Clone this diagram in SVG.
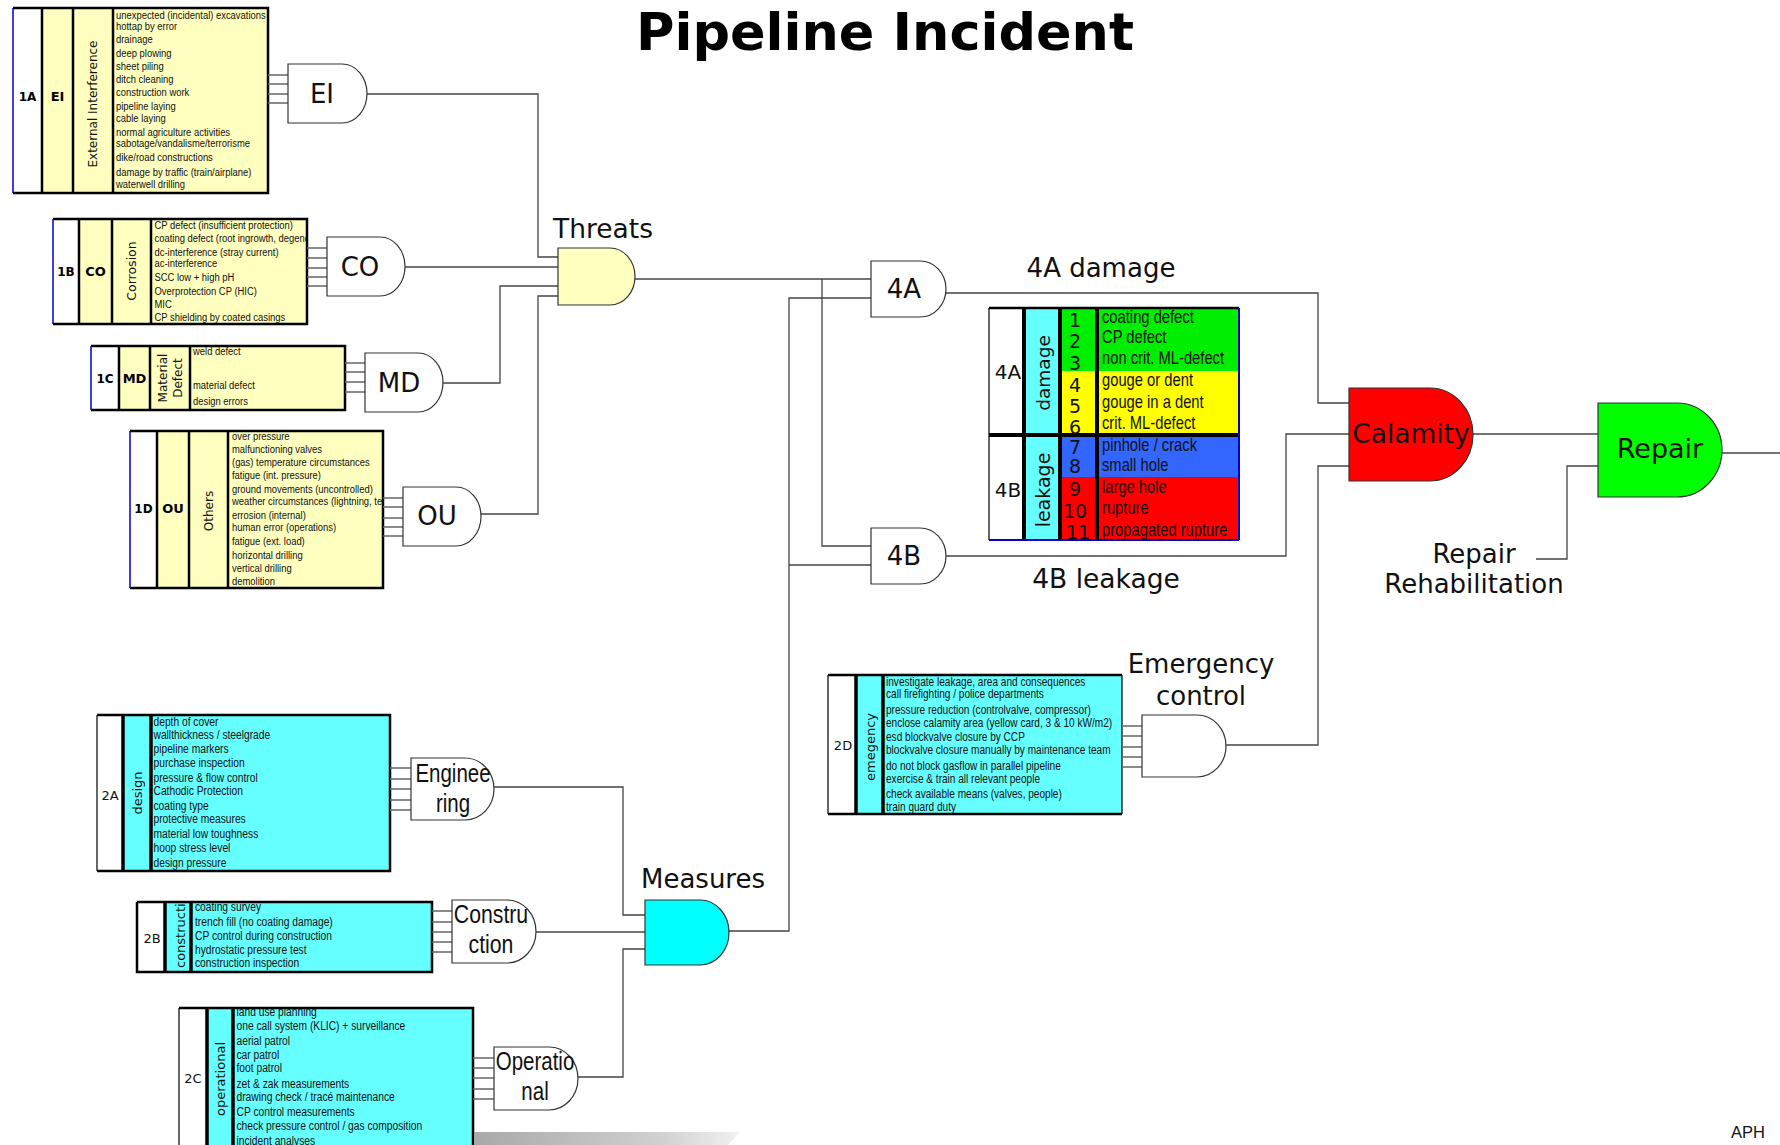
<svg xmlns="http://www.w3.org/2000/svg" width="1780" height="1145" viewBox="0 0 1780 1145">
<style>
.bg{fill:#ffffff}
.yel{fill:#FFFFC0}
.cy{fill:#66FFFF}
.wh{fill:#ffffff}
.bk{stroke:#000;stroke-width:2.5;fill:none}
.bk3{stroke:#000;stroke-width:3.5;fill:none}
.bl{stroke:#0000CC;stroke-width:1.5;fill:none}
.thin{stroke:#000;stroke-width:1.2;fill:none}
.stub{stroke:#666;stroke-width:1.5;fill:none}
.con{stroke:#444;stroke-width:1.3;fill:none}
.gate{stroke:#333;stroke-width:1.2}
.gw{fill:#ffffff}
.li{font-family:"Liberation Sans",Arial,sans-serif;fill:#111}
.dv{font-family:"DejaVu Sans",Verdana,sans-serif;fill:#111}
.dvb{font-family:"DejaVu Sans",Verdana,sans-serif;font-weight:bold;fill:#000}
.mid{text-anchor:middle}
.gl{font-family:"DejaVu Sans",Verdana,sans-serif;font-size:26px;text-anchor:middle;fill:#111}
.nl{font-family:"Liberation Sans",Arial,sans-serif;font-size:25px;text-anchor:middle;fill:#111}
</style>
<defs>
<clipPath id="c1b"><rect x="151" y="219" width="156" height="105"/></clipPath>
<clipPath id="c1d"><rect x="228" y="431" width="155" height="157"/></clipPath>
<clipPath id="c2b"><rect x="165" y="902" width="26" height="70"/></clipPath>
<clipPath id="c2d"><rect x="883" y="675" width="239" height="139"/></clipPath>
<linearGradient id="shade" x1="0" y1="0" x2="1" y2="0">
<stop offset="0" stop-color="#a8a8a8"/>
<stop offset="0.7" stop-color="#d0d0d0"/>
<stop offset="1" stop-color="#f2f2f2"/>
</linearGradient>
</defs>
<rect class="bg" x="0" y="0" width="1780" height="1145"/>

<text class="dvb" x="885" y="50" font-size="52" text-anchor="middle" textLength="498" lengthAdjust="spacingAndGlyphs">Pipeline Incident</text>

<!-- connectors -->
<g id="connectors">
<path class="con" d="M367,94 H538 V257 H558"/>
<path class="con" d="M405,267 H558"/>
<path class="con" d="M443,383 H500 V286 H558"/>
<path class="con" d="M481,514 H538 V296 H558"/>
<path class="con" d="M635,279 H871"/>
<path class="con" d="M822,279 V546 H871"/>
<path class="con" d="M871,298 H789 V931 H729"/>
<path class="con" d="M789,565 H871"/>
<path class="con" d="M946,293 H1318 V403 H1349"/>
<path class="con" d="M946,556 H1286 V434 H1349"/>
<path class="con" d="M1473,434 H1598"/>
<path class="con" d="M1226,745 H1318 V466 H1349"/>
<path class="con" d="M1722,453 H1780"/>
<path class="con" d="M1536,559 H1567 V466 H1598"/>
<path class="con" d="M494,787 H623 V915 H645"/>
<path class="con" d="M536,932 H645"/>
<path class="con" d="M578,1077 H623 V949 H645"/>
</g>

<!-- 1A -->
<g id="box1A">
<rect class="wh" x="13" y="8" width="29" height="185"/>
<rect class="yel" x="42" y="8" width="226" height="185"/>
<path class="bk" d="M13,8 H268 V193 H13 M42,8 V193 M73,8 V193 M113,8 V193"/>
<path class="bl" d="M13,8 V193"/>
<text class="dvb mid" x="27.5" y="101" font-size="12">1A</text>
<text class="dvb mid" x="57.5" y="101" font-size="13">EI</text>
<text class="dv mid" x="93" y="104" font-size="12" dominant-baseline="central" transform="rotate(-90 93 104)">External Interference</text>
<g transform="translate(116 0) scale(0.82 1)">
<text class="li" font-size="11.5">
<tspan x="0" y="19">unexpected (incidental) excavations</tspan>
<tspan x="0" y="30">hottap by error</tspan>
<tspan x="0" y="43">drainage</tspan>
<tspan x="0" y="57">deep plowing</tspan>
<tspan x="0" y="70">sheet piling</tspan>
<tspan x="0" y="83">ditch cleaning</tspan>
<tspan x="0" y="96">construction work</tspan>
<tspan x="0" y="110">pipeline  laying</tspan>
<tspan x="0" y="122">cable laying</tspan>
<tspan x="0" y="136">normal agriculture activities</tspan>
<tspan x="0" y="147">sabotage/vandalisme/terrorisme</tspan>
<tspan x="0" y="161">dike/road constructions</tspan>
<tspan x="0" y="176">damage by traffic (train/airplane)</tspan>
<tspan x="0" y="188">waterwell drilling</tspan>
</text>
</g>
<path class="stub" d="M268,75 H288 M268,84 H288 M268,94 H288 M268,103 H288"/>
</g>

<!-- 1B -->
<g id="box1B">
<rect class="wh" x="53" y="219" width="26" height="105"/>
<rect class="yel" x="79" y="219" width="228" height="105"/>
<path class="bk" d="M53,219 H307 V324 H53 M79,219 V324 M112,219 V324 M151,219 V324"/>
<path class="bl" d="M53,219 V324"/>
<text class="dvb mid" x="66" y="276" font-size="12">1B</text>
<text class="dvb mid" x="95.5" y="276" font-size="13">CO</text>
<text class="dv mid" x="131" y="271" font-size="12.5" dominant-baseline="central" transform="rotate(-90 131 271)">Corrosion</text>
<g clip-path="url(#c1b)">
<g transform="translate(154.5 0) scale(0.82 1)">
<text class="li" font-size="11.5">
<tspan x="0" y="229">CP defect (insufficient protection)</tspan>
<tspan x="0" y="242">coating defect (root ingrowth, degene</tspan>
<tspan x="0" y="256">dc-interference (stray current)</tspan>
<tspan x="0" y="267">ac-interference</tspan>
<tspan x="0" y="281.5">SCC low + high pH</tspan>
<tspan x="0" y="295">Overprotection CP (HIC)</tspan>
<tspan x="0" y="308">MIC</tspan>
<tspan x="0" y="321">CP shielding by coated casings</tspan>
</text>
</g>
</g>
<path class="stub" d="M307,248 H327 M307,258 H327 M307,268 H327 M307,277 H327 M307,286 H327"/>
</g>

<!-- 1C -->
<g id="box1C">
<rect class="wh" x="91" y="346" width="28" height="64"/>
<rect class="yel" x="119" y="346" width="226" height="64"/>
<path class="bk" d="M91,346 H345 V410 H91 M119,346 V410 M150,346 V410 M190,346 V410"/>
<path class="bl" d="M91,346 V410"/>
<text class="dvb mid" x="105" y="383" font-size="12">1C</text>
<text class="dvb mid" x="134.5" y="383" font-size="13">MD</text>
<text class="dv mid" x="163" y="378" font-size="12" dominant-baseline="central" transform="rotate(-90 163 378)">Material</text>
<text class="dv mid" x="178" y="378" font-size="12" dominant-baseline="central" transform="rotate(-90 178 378)">Defect</text>
<g transform="translate(193 0) scale(0.82 1)">
<text class="li" font-size="11.5">
<tspan x="0" y="355.5">weld defect</tspan>
<tspan x="0" y="389">material defect</tspan>
<tspan x="0" y="405">design errors</tspan>
</text>
</g>
<path class="stub" d="M345,363 H365 M345,372 H365 M345,382 H365 M345,392 H365"/>
</g>

<!-- 1D -->
<g id="box1D">
<rect class="wh" x="130" y="431" width="27" height="157"/>
<rect class="yel" x="157" y="431" width="226" height="157"/>
<path class="bk" d="M130,431 H383 V588 H130 M157,431 V588 M189,431 V588 M228,431 V588"/>
<path class="bl" d="M130,431 V588"/>
<text class="dvb mid" x="143.5" y="513" font-size="12">1D</text>
<text class="dvb mid" x="173" y="513" font-size="13">OU</text>
<text class="dv mid" x="208.5" y="511" font-size="12" dominant-baseline="central" transform="rotate(-90 208.5 511)">Others</text>
<g clip-path="url(#c1d)">
<g transform="translate(232 0) scale(0.82 1)">
<text class="li" font-size="11.5">
<tspan x="0" y="440.5">over pressure</tspan>
<tspan x="0" y="453">malfunctioning valves</tspan>
<tspan x="0" y="466">(gas) temperature circumstances</tspan>
<tspan x="0" y="479">fatigue (int. pressure)</tspan>
<tspan x="0" y="493">ground movements (uncontrolled)</tspan>
<tspan x="0" y="505.5">weather circumstances (lightning, te</tspan>
<tspan x="0" y="519">errosion (internal)</tspan>
<tspan x="0" y="531.5">human error (operations)</tspan>
<tspan x="0" y="545.5">fatigue (ext. load)</tspan>
<tspan x="0" y="559">horizontal drilling</tspan>
<tspan x="0" y="572">vertical drilling</tspan>
<tspan x="0" y="585">demolition</tspan>
</text>
</g>
</g>
<path class="stub" d="M383,498 H403 M383,507 H403 M383,518 H403 M383,527 H403 M383,536 H403"/>
</g>

<!-- gates -->
<g id="gateEI"><path class="gate gw" d="M288,64 H342 A25,29.5 0 0 1 342,123 H288 Z"/><text class="gl" x="322" y="103">EI</text></g>
<g id="gateCO"><path class="gate gw" d="M327,237 H380 A25,29.5 0 0 1 380,296 H327 Z"/><text class="gl" x="360" y="276">CO</text></g>
<g id="gateMD"><path class="gate gw" d="M365,353 H418 A25,29.5 0 0 1 418,412 H365 Z"/><text class="gl" x="399" y="392">MD</text></g>
<g id="gateOU"><path class="gate gw" d="M403,487 H456 A25,29.5 0 0 1 456,546 H403 Z"/><text class="gl" x="437" y="525">OU</text></g>
<g id="gateThreats"><path class="gate" fill="#FFFFC0" d="M558,248 H610 A25,28.5 0 0 1 610,305 H558 Z"/><text class="dv" x="553" y="238" font-size="26.5">Threats</text></g>
<g id="gate4A"><path class="gate gw" d="M871,261 H920 A26,28 0 0 1 920,317 H871 Z"/><text class="gl" x="904" y="298">4A</text></g>
<g id="gate4B"><path class="gate gw" d="M871,528 H920 A26,28 0 0 1 920,584 H871 Z"/><text class="gl" x="904" y="565">4B</text></g>
<text class="dv mid" x="1101" y="277" font-size="26">4A damage</text>
<text class="dv mid" x="1106" y="588" font-size="26.5">4B leakage</text>

<!-- damage table -->
<g id="damageTable">
<rect class="wh" x="989" y="308" width="35" height="232"/>
<rect class="cy" x="1024" y="308" width="36" height="232"/>
<rect fill="#00EE00" x="1060" y="308" width="179" height="63"/>
<rect fill="#FFFF00" x="1060" y="371" width="179" height="64"/>
<rect fill="#3366FF" x="1060" y="435" width="179" height="42"/>
<rect fill="#FF0000" x="1060" y="477" width="179" height="63"/>
<path class="bk" d="M989,308 H1239"/>
<path class="thin" d="M989,308 V540"/>
<path stroke="#000" stroke-width="4" fill="none" d="M1024,308 V540 M1060,308 V540 M1097,308 V540 M989,435 H1239"/>
<path stroke="#0000CC" stroke-width="2" fill="none" d="M1239,308 V540 M989,540 H1239"/>
<text class="dv mid" x="1008" y="379" font-size="20">4A</text>
<text class="dv mid" x="1008" y="497" font-size="20">4B</text>
<text class="dv mid" x="1043" y="373" font-size="18.5" dominant-baseline="central" transform="rotate(-90 1043 373)">damage</text>
<text class="dv mid" x="1043" y="490" font-size="19" dominant-baseline="central" transform="rotate(-90 1043 490)">leakage</text>
<text class="dv mid" font-size="19">
<tspan x="1078" y="327">1</tspan>
<tspan x="1078" y="348">2</tspan>
<tspan x="1078" y="370">3</tspan>
<tspan x="1078" y="392">4</tspan>
<tspan x="1078" y="413">5</tspan>
<tspan x="1078" y="434">6</tspan>
<tspan x="1078" y="454">7</tspan>
<tspan x="1078" y="473">8</tspan>
<tspan x="1078" y="496">9</tspan>
<tspan x="1078" y="518">10</tspan>
<tspan x="1078" y="539">11</tspan>
</text>
<g transform="translate(1102 0) scale(0.82 1)">
<text class="li" font-size="18">
<tspan x="0" y="323">coating defect</tspan>
<tspan x="0" y="343">CP defect</tspan>
<tspan x="0" y="364">non crit. ML-defect</tspan>
<tspan x="0" y="386">gouge or dent</tspan>
<tspan x="0" y="408">gouge in a dent</tspan>
<tspan x="0" y="429">crit. ML-defect</tspan>
<tspan x="0" y="451">pinhole / crack</tspan>
<tspan x="0" y="471">small hole</tspan>
<tspan x="0" y="493">large hole</tspan>
<tspan x="0" y="514">rupture</tspan>
<tspan x="0" y="536">propagated rupture</tspan>
</text>
</g>
</g>

<g id="gateCalamity"><path class="gate" fill="#FF0000" d="M1349,388 H1430 A43,46.5 0 0 1 1430,481 H1349 Z"/><text class="dv mid" x="1411" y="443" font-size="26.5">Calamity</text></g>
<g id="gateRepair"><path class="gate" fill="#00FF00" d="M1598,403 H1677 A45,47 0 0 1 1677,497 H1598 Z"/><text class="dv mid" x="1660" y="458" font-size="27">Repair</text></g>
<text class="dv mid" x="1474" y="563" font-size="26">Repair</text>
<text class="dv mid" x="1474" y="593" font-size="26">Rehabilitation</text>

<!-- 2D -->
<g id="box2D">
<rect class="wh" x="828" y="675" width="28" height="139"/>
<rect class="cy" x="856" y="675" width="266" height="139"/>
<path class="bk" d="M828,675 H1122 M828,814 H1122"/>
<path class="thin" d="M828,675 V814 M1122,675 V814"/>
<path class="bk3" d="M856,675 V814 M883,675 V814"/>
<text class="dv mid" x="843" y="750" font-size="13">2D</text>
<text class="dv mid" x="870" y="747" font-size="13" dominant-baseline="central" transform="rotate(-90 870 747)">emegency</text>
<g clip-path="url(#c2d)">
<g transform="translate(886 0) scale(0.82 1)">
<text class="li" font-size="12.3">
<tspan x="0" y="686.5">investigate leakage, area and consequences</tspan>
<tspan x="0" y="698.5">call firefighting / police departments</tspan>
<tspan x="0" y="714">pressure reduction (controlvalve, compressor)</tspan>
<tspan x="0" y="727.5">enclose calamity area (yellow card, 3 &amp; 10 kW/m2)</tspan>
<tspan x="0" y="741">esd blockvalve closure by CCP</tspan>
<tspan x="0" y="754">blockvalve closure manually by maintenance team</tspan>
<tspan x="0" y="770">do not block gasflow in parallel pipeline</tspan>
<tspan x="0" y="783.5">exercise &amp; train all relevant people</tspan>
<tspan x="0" y="798">check available means (valves, people)</tspan>
<tspan x="0" y="811">train guard duty</tspan>
</text>
</g>
</g>
<path class="stub" d="M1122,726 H1142 M1122,736 H1142 M1122,747 H1142 M1122,757 H1142 M1122,767 H1142"/>
</g>
<g id="gateEmergency"><path class="gate gw" d="M1142,715 H1197 A29,31 0 0 1 1197,777 H1142 Z"/>
<text class="dv mid" x="1201" y="673" font-size="26">Emergency</text>
<text class="dv mid" x="1201" y="705" font-size="26">control</text></g>

<!-- 2A -->
<g id="box2A">
<rect class="wh" x="97" y="715" width="26" height="156"/>
<rect class="cy" x="123" y="715" width="267" height="156"/>
<path class="bk" d="M97,715 H390 V871 H97"/>
<path class="thin" d="M97,715 V871"/>
<path class="bk3" d="M123,715 V871 M151,715 V871"/>
<text class="dv mid" x="110" y="800" font-size="13">2A</text>
<text class="dv mid" x="137" y="793" font-size="13" dominant-baseline="central" transform="rotate(-90 137 793)">design</text>
<g transform="translate(153.5 0) scale(0.82 1)">
<text class="li" font-size="12.5">
<tspan x="0" y="726">depth of cover</tspan>
<tspan x="0" y="739">wallthickness / steelgrade</tspan>
<tspan x="0" y="753">pipeline markers</tspan>
<tspan x="0" y="767.5">purchase inspection</tspan>
<tspan x="0" y="782">pressure &amp; flow control</tspan>
<tspan x="0" y="795">Cathodic Protection</tspan>
<tspan x="0" y="810">coating type</tspan>
<tspan x="0" y="823.5">protective measures</tspan>
<tspan x="0" y="838.5">material low toughness</tspan>
<tspan x="0" y="852.5">hoop stress level</tspan>
<tspan x="0" y="867">design pressure</tspan>
</text>
</g>
<path class="stub" d="M390,768 H411 M390,779 H411 M390,789 H411 M390,800 H411 M390,810 H411"/>
</g>
<g id="gateEngineering"><path class="gate gw" d="M411,758 H465 A29,31 0 0 1 465,820 H411 Z"/>
<g transform="translate(453 0) scale(0.82 1)"><text class="nl" x="0" y="782">Enginee</text><text class="nl" x="0" y="812">ring</text></g></g>

<!-- 2B -->
<g id="box2B">
<rect class="wh" x="137" y="902" width="28" height="70"/>
<rect class="cy" x="165" y="902" width="267" height="70"/>
<path class="bk" d="M137,902 H432 V972 H137 V902"/>
<path class="bk3" d="M165,902 V972 M191,902 V972"/>
<text class="dv mid" x="152" y="943" font-size="13">2B</text>
<g clip-path="url(#c2b)"><text class="dv" x="180" y="968" font-size="13" dominant-baseline="central" transform="rotate(-90 180 968)">constructio</text></g>
<g transform="translate(195 0) scale(0.82 1)">
<text class="li" font-size="12.5">
<tspan x="0" y="911">coating survey</tspan>
<tspan x="0" y="926.5">trench fill (no coating damage)</tspan>
<tspan x="0" y="940">CP control during construction</tspan>
<tspan x="0" y="954">hydrostatic pressure test</tspan>
<tspan x="0" y="967.5">construction inspection</tspan>
</text>
</g>
<path class="stub" d="M432,911 H452 M432,922 H452 M432,932 H452 M432,942 H452 M432,952 H452"/>
</g>
<g id="gateConstruction"><path class="gate gw" d="M452,900 H507 A29,31.5 0 0 1 507,963 H452 Z"/>
<g transform="translate(491 0) scale(0.85 1)"><text class="nl" x="0" y="923">Constru</text><text class="nl" x="0" y="953">ction</text></g></g>

<!-- 2C -->
<g id="box2C">
<rect class="wh" x="179" y="1008" width="28" height="142"/>
<rect class="cy" x="207" y="1008" width="266" height="142"/>
<path class="bk" d="M179,1008 H473 V1150"/>
<path class="thin" d="M179,1008 V1150"/>
<path class="bk3" d="M207,1008 V1150 M233,1008 V1150"/>
<text class="dv mid" x="193" y="1083" font-size="13">2C</text>
<text class="dv mid" x="220" y="1079" font-size="13" dominant-baseline="central" transform="rotate(-90 220 1079)">operational</text>
<g transform="translate(236.5 0) scale(0.82 1)">
<text class="li" font-size="12.5">
<tspan x="0" y="1016.5">land use planning</tspan>
<tspan x="0" y="1030">one call system (KLIC) + surveillance</tspan>
<tspan x="0" y="1045">aerial patrol</tspan>
<tspan x="0" y="1059">car patrol</tspan>
<tspan x="0" y="1072.5">foot patrol</tspan>
<tspan x="0" y="1087.5">zet &amp; zak measurements</tspan>
<tspan x="0" y="1101.5">drawing check / tracé maintenance</tspan>
<tspan x="0" y="1116">CP control measurements</tspan>
<tspan x="0" y="1130">check pressure control / gas composition</tspan>
<tspan x="0" y="1145">incident analyses</tspan>
</text>
</g>
<path class="stub" d="M473,1058 H494 M473,1068 H494 M473,1078 H494 M473,1089 H494 M473,1099 H494"/>
</g>
<g id="gateOperational"><path class="gate gw" d="M494,1047 H549 A29,31.5 0 0 1 549,1110 H494 Z"/>
<g transform="translate(535 0) scale(0.82 1)"><text class="nl" x="0" y="1070">Operatio</text><text class="nl" x="0" y="1100">nal</text></g></g>

<g id="gateMeasures"><path class="gate" fill="#00FFFF" d="M645,900 H700 A29,32.5 0 0 1 700,965 H645 Z"/>
<text class="dv mid" x="703" y="888" font-size="26">Measures</text></g>

<polygon points="474,1132 740,1132 728,1145 474,1145" fill="url(#shade)"/>
<text class="li" x="1731" y="1138" font-size="16.5">APH</text>
</svg>
